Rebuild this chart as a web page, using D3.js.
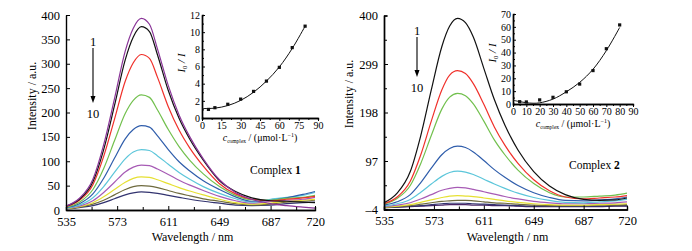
<!DOCTYPE html>
<html>
<head>
<meta charset="utf-8">
<script src="https://cdn.jsdelivr.net/npm/d3@7"></script>
<style>
  body { margin: 0; background: #fff; }
  svg { display: block; font-family: "Liberation Serif", "Times New Roman", serif; }
  .axis path, .axis line { stroke: #000; }
  .axis text { font-family: "Liberation Serif", serif; fill: #000; }
</style>
</head>
<body>
<svg id="chart" width="692" height="251"></svg>
<script>
// THE DATA
const wavelengths = [535, 545, 555, 563, 571, 579, 585, 591, 597, 603, 611, 619, 627, 637, 649, 661, 673, 687, 699, 711, 720];

// complex 1, curves 1..10
const spectra1 = [
  [8, 24, 63, 134, 228, 326, 373, 393, 381, 330, 255, 195, 150, 105, 62, 36, 22, 13, 9, 6, 4],
  [8, 22, 58, 124, 214, 308, 355, 376, 366, 318, 245, 188, 145, 102, 60, 38, 25, 19, 18, 16, 15],
  [7, 20, 52, 110, 186, 264, 302, 319, 311, 272, 212, 164, 127, 90, 54, 33, 22, 19, 22, 25, 28],
  [6, 16, 42, 85, 142, 198, 225, 236, 231, 205, 165, 130, 102, 74, 48, 30, 21, 20, 24, 26, 30],
  [5, 13, 33, 65, 106, 146, 165, 173, 170, 152, 124, 99, 80, 60, 42, 27, 18, 20, 25, 32, 38],
  [4, 10, 25, 48, 77, 105, 119, 124, 122, 111, 94, 77, 63, 48, 34, 23, 16, 22, 26, 30, 36],
  [4, 8, 19, 36, 57, 78, 88, 92, 91, 84, 73, 61, 51, 40, 28, 19, 14, 18, 20, 22, 26],
  [3, 7, 15, 27, 42, 57, 65, 68, 67, 62, 54, 46, 39, 31, 22, 15, 12, 14, 18, 20, 22],
  [3, 6, 12, 20, 31, 42, 48, 50, 49, 46, 40, 34, 29, 23, 18, 13, 10, 12, 16, 18, 20],
  [2, 5, 9, 15, 23, 31, 35, 37, 36, 34, 30, 26, 22, 18, 14, 10, 9, 10, 13, 15, 16]
];
const colors1 = ["#8a3598", "#111111", "#f0302a", "#72c04e", "#2f5dab", "#5cc6da", "#a75bb5", "#e6e032", "#6e6a3e", "#32336f"];

// complex 2, curves 1..10
const spectra2 = [
  [10, 30, 75, 150, 245, 335, 378, 394, 385, 355, 290, 225, 172, 120, 75, 45, 27, 17, 15, 16, 20],
  [8, 22, 55, 110, 180, 245, 276, 285, 279, 258, 215, 168, 130, 92, 58, 35, 22, 18, 20, 22, 25],
  [7, 19, 46, 92, 150, 205, 230, 238, 233, 216, 180, 141, 110, 78, 50, 31, 22, 22, 24, 26, 30],
  [5, 12, 27, 52, 82, 110, 123, 128, 125, 116, 98, 79, 63, 46, 31, 21, 15, 14, 16, 18, 22],
  [3, 8, 17, 32, 49, 65, 73, 76, 74, 69, 59, 49, 40, 30, 21, 15, 11, 10, 12, 14, 17],
  [2, 5, 10, 18, 27, 36, 40, 42, 41, 38, 33, 28, 23, 18, 13, 10, 8, 8, 9, 10, 12],
  [1, 3, 6, 11, 16, 21, 24, 25, 24, 23, 20, 17, 14, 11, 8, 6, 5, 5, 6, 7, 8],
  [1, 2, 4, 7, 10, 13, 14, 15, 15, 14, 12, 10, 9, 7, 5, 4, 4, 4, 5, 5, 6],
  [0, 1, 3, 4, 6, 8, 9, 9, 9, 8, 7, 6, 5, 4, 3, 3, 3, 3, 3, 4, 4],
  [0, 1, 2, 3, 4, 5, 6, 6, 6, 5, 5, 4, 4, 3, 2, 2, 2, 2, 2, 3, 3]
];
const colors2 = ["#111111", "#f0302a", "#72c04e", "#2f5dab", "#5cc6da", "#a75bb5", "#e6e032", "#6e6a3e", "#32336f", "#4a2466"];

// x ticks (shared)
const xMajor = [535, 573, 611, 649, 687, 720];
const xMinor = [554, 592, 630, 668, 706];
const yTicks1 = [0, 50, 100, 150, 200, 250, 300, 350, 400];
const yTicks2 = [-4, 97, 198, 299, 400];
const yMinor2 = [46.5, 147.5, 248.5, 349.5];

// insets: I0/I vs c(complex)
const insetConc1 = [5, 10, 20, 30, 40, 50, 60, 70, 80];
const insetRatio1 = [1.0, 1.2, 1.6, 2.2, 3.1, 4.3, 5.9, 8.2, 10.7];
const fitConc1 = [0, 10, 20, 30, 40, 50, 60, 70, 80];
const fitRatio1 = [1.1, 1.15, 1.45, 2.05, 3.0, 4.3, 5.95, 8.1, 10.7];
const insetTicksX1 = [0, 15, 30, 45, 60, 75, 90];
const insetTicksY1 = [0, 2, 4, 6, 8, 10, 12];

const insetConc2 = [5, 10, 20, 30, 40, 50, 60, 70, 80];
const insetRatio2 = [1.8, 1.6, 3.2, 5.2, 9.5, 15.5, 26, 43, 61.5];
const fitConc2 = [0, 5, 10, 15, 20, 30, 40, 50, 60, 70, 80];
const fitRatio2 = [3, 1.8, 1.0, 0.6, 0.9, 3.8, 9.5, 16.8, 27, 41.5, 59.5];
const insetTicksX2 = [0, 10, 20, 30, 40, 50, 60, 70, 80, 90];
const insetTicksY2 = [0, 10, 20, 30, 40, 50, 60, 70];

const svg = d3.select("#chart");

// draws one axis with inward ticks
function drawAxis(g, axis, fontSize) {
  g.attr("class", "axis").call(axis);
  g.select(".domain").attr("stroke-width", 1.4);
  g.selectAll(".tick line").attr("stroke-width", 1);
  g.selectAll("text").style("font-size", fontSize + "px");
}

function drawPanel(cfg) {
  const x = d3.scaleLinear().domain([535, 720]).range(cfg.xRange);
  const y = d3.scaleLinear().domain(cfg.yDomain).range(cfg.yRange);

  const line = d3.line()
    .x((d, i) => x(wavelengths[i]))
    .y(d => y(d))
    .curve(d3.curveMonotoneX);

  // spectra, lowest first so the big ones sit on top
  svg.append("g")
    .selectAll("path")
    .data(cfg.spectra.map((s, i) => ({s, c: cfg.colors[i]})).reverse())
    .join("path")
    .attr("d", d => line(d.s))
    .attr("fill", "none")
    .attr("stroke", d => d.c)
    .attr("stroke-width", 1.2);

  // minor ticks on bottom axis
  drawAxis(svg.append("g").attr("transform", `translate(0,${cfg.yRange[0]})`),
    d3.axisBottom(x).tickValues(xMinor).tickSize(-3).tickFormat(""), 12.5);
  drawAxis(svg.append("g").attr("transform", `translate(0,${cfg.yRange[0]})`),
    d3.axisBottom(x).tickValues(xMajor).tickSizeInner(-4).tickSizeOuter(0).tickPadding(7), 12.5);

  if (cfg.yMinor) {
    drawAxis(svg.append("g").attr("transform", `translate(${cfg.xRange[0]},0)`),
      d3.axisLeft(y).tickValues(cfg.yMinor).tickSize(-3).tickFormat(""), 12.5);
  }
  drawAxis(svg.append("g").attr("transform", `translate(${cfg.xRange[0]},0)`),
    d3.axisLeft(y).tickValues(cfg.yTicks).tickSizeInner(-4).tickSizeOuter(0).tickPadding(6)
      .tickFormat(d => d < 0 ? "\u2013" + Math.abs(d) : d), 12.5);

  // axis titles
  svg.append("text")
    .attr("x", (cfg.xRange[0] + cfg.xRange[1]) / 2 + 2)
    .attr("y", 241)
    .attr("text-anchor", "middle")
    .style("font-size", "12px")
    .text("Wavelength / nm");

  svg.append("text")
    .attr("transform", `translate(${cfg.yTitleX},${cfg.yTitleY}) rotate(-90)`)
    .attr("text-anchor", "middle")
    .style("font-size", "12px")
    .text("Intensity / a.u.");

  // arrow 1 -> 10
  const ar = cfg.arrow;
  svg.append("text").attr("x", ar.x).attr("y", ar.y0 - 2).attr("text-anchor", "middle")
    .style("font-size", "12.5px").text("1");
  svg.append("line")
    .attr("x1", ar.x).attr("x2", ar.x).attr("y1", ar.y0).attr("y2", ar.y1 - 5)
    .attr("stroke", "#000").attr("stroke-width", 1.1);
  svg.append("path")
    .attr("d", `M${ar.x - 2.5},${ar.y1 - 7}L${ar.x + 2.5},${ar.y1 - 7}L${ar.x},${ar.y1}Z`)
    .attr("fill", "#000");
  svg.append("text").attr("x", ar.x).attr("y", ar.y1 + 15).attr("text-anchor", "middle")
    .style("font-size", "12.5px").text("10");

  // label
  const lab = svg.append("text").attr("x", cfg.label.x).attr("y", cfg.label.y)
    .style("font-size", "11.5px");
  lab.append("tspan").text("Complex ");
  lab.append("tspan").attr("font-weight", "bold").text(cfg.label.n);
}

function drawInset(cfg) {
  const x = d3.scaleLinear().domain([0, 90]).range(cfg.xRange);
  const y = d3.scaleLinear().domain([0, cfg.yMax]).range(cfg.yRange);

  drawAxis(svg.append("g").attr("transform", `translate(0,${cfg.yRange[0]})`),
    d3.axisBottom(x).tickValues(cfg.xMinor).tickSize(2).tickFormat(""), 10);
  drawAxis(svg.append("g").attr("transform", `translate(0,${cfg.yRange[0]})`),
    d3.axisBottom(x).tickValues(cfg.xTicks).tickSizeInner(3).tickSizeOuter(0).tickPadding(1), 10);
  drawAxis(svg.append("g").attr("transform", `translate(${cfg.xRange[0]},0)`),
    d3.axisLeft(y).tickValues(cfg.yMinor).tickSize(-2).tickFormat(""), 10);
  drawAxis(svg.append("g").attr("transform", `translate(${cfg.xRange[0]},0)`),
    d3.axisLeft(y).tickValues(cfg.yTicks).tickSizeInner(-3).tickSizeOuter(0).tickPadding(2), 10);

  const fit = d3.line()
    .x((d, i) => x(cfg.fitX[i]))
    .y(d => y(d))
    .curve(d3.curveCatmullRom);
  svg.append("path")
    .attr("d", fit(cfg.fitY))
    .attr("fill", "none")
    .attr("stroke", "#111")
    .attr("stroke-width", 1);

  svg.append("g")
    .selectAll("rect")
    .data(cfg.ptY)
    .join("rect")
    .attr("x", (d, i) => x(cfg.ptX[i]) - 1.6)
    .attr("y", d => y(d) - 1.6)
    .attr("width", 3.2)
    .attr("height", 3.2)
    .attr("fill", "#111");

  // x title: c_complex / (µmol·L-1)
  const xt = svg.append("text")
    .attr("x", (cfg.xRange[0] + cfg.xRange[1]) / 2)
    .attr("y", cfg.xTitleY)
    .attr("text-anchor", "middle")
    .style("font-size", "10px");
  xt.append("tspan").attr("font-style", "italic").text("c");
  xt.append("tspan").attr("font-size", "5.5px").attr("dy", 2).text("complex");
  xt.append("tspan").attr("dy", -2).text(" / (\u03bcmol\u00b7L");
  xt.append("tspan").attr("font-size", "6px").attr("dy", -4).text("\u22121");
  xt.append("tspan").attr("dy", 4).text(")");

  // y title: I0 / I
  const yt = svg.append("text")
    .attr("transform", `translate(${cfg.yTitle[0]},${cfg.yTitle[1]}) rotate(-90)`)
    .attr("text-anchor", "middle")
    .style("font-size", "11px");
  yt.append("tspan").attr("font-style", "italic").text("I");
  yt.append("tspan").attr("font-size", "6.5px").attr("dy", 2).text("0");
  yt.append("tspan").attr("dy", -2).attr("font-style", "italic").text(" / I");
}

drawPanel({
  xRange: [66, 315], yDomain: [0, 400], yRange: [210, 15],
  spectra: spectra1, colors: colors1, yTicks: yTicks1,
  yTitleX: 36, yTitleY: 96,
  arrow: {x: 93, y0: 48, y1: 103},
  label: {x: 250, y: 174, n: "1"}
});
drawPanel({
  xRange: [384, 627], yDomain: [-4, 400], yRange: [209.5, 15.5],
  spectra: spectra2, colors: colors2, yTicks: yTicks2, yMinor: yMinor2,
  yTitleX: 353, yTitleY: 94,
  arrow: {x: 417, y0: 37, y1: 77},
  label: {x: 569, y: 169, n: "2"}
});

drawInset({
  xRange: [202, 318], yRange: [118, 15], yMax: 12,
  xTicks: insetTicksX1, xMinor: [7.5, 22.5, 37.5, 52.5, 67.5, 82.5],
  yTicks: insetTicksY1, yMinor: [1, 3, 5, 7, 9, 11],
  fitX: fitConc1, fitY: fitRatio1, ptX: insetConc1, ptY: insetRatio1,
  xTitleY: 141, yTitle: [185, 63]
});
drawInset({
  xRange: [513, 633], yRange: [104, 14], yMax: 70,
  xTicks: insetTicksX2, xMinor: [5, 15, 25, 35, 45, 55, 65, 75, 85],
  yTicks: insetTicksY2, yMinor: [5, 15, 25, 35, 45, 55, 65],
  fitX: fitConc2, fitY: fitRatio2, ptX: insetConc2, ptY: insetRatio2,
  xTitleY: 127, yTitle: [496, 53]
});
</script>
</body>
</html>
